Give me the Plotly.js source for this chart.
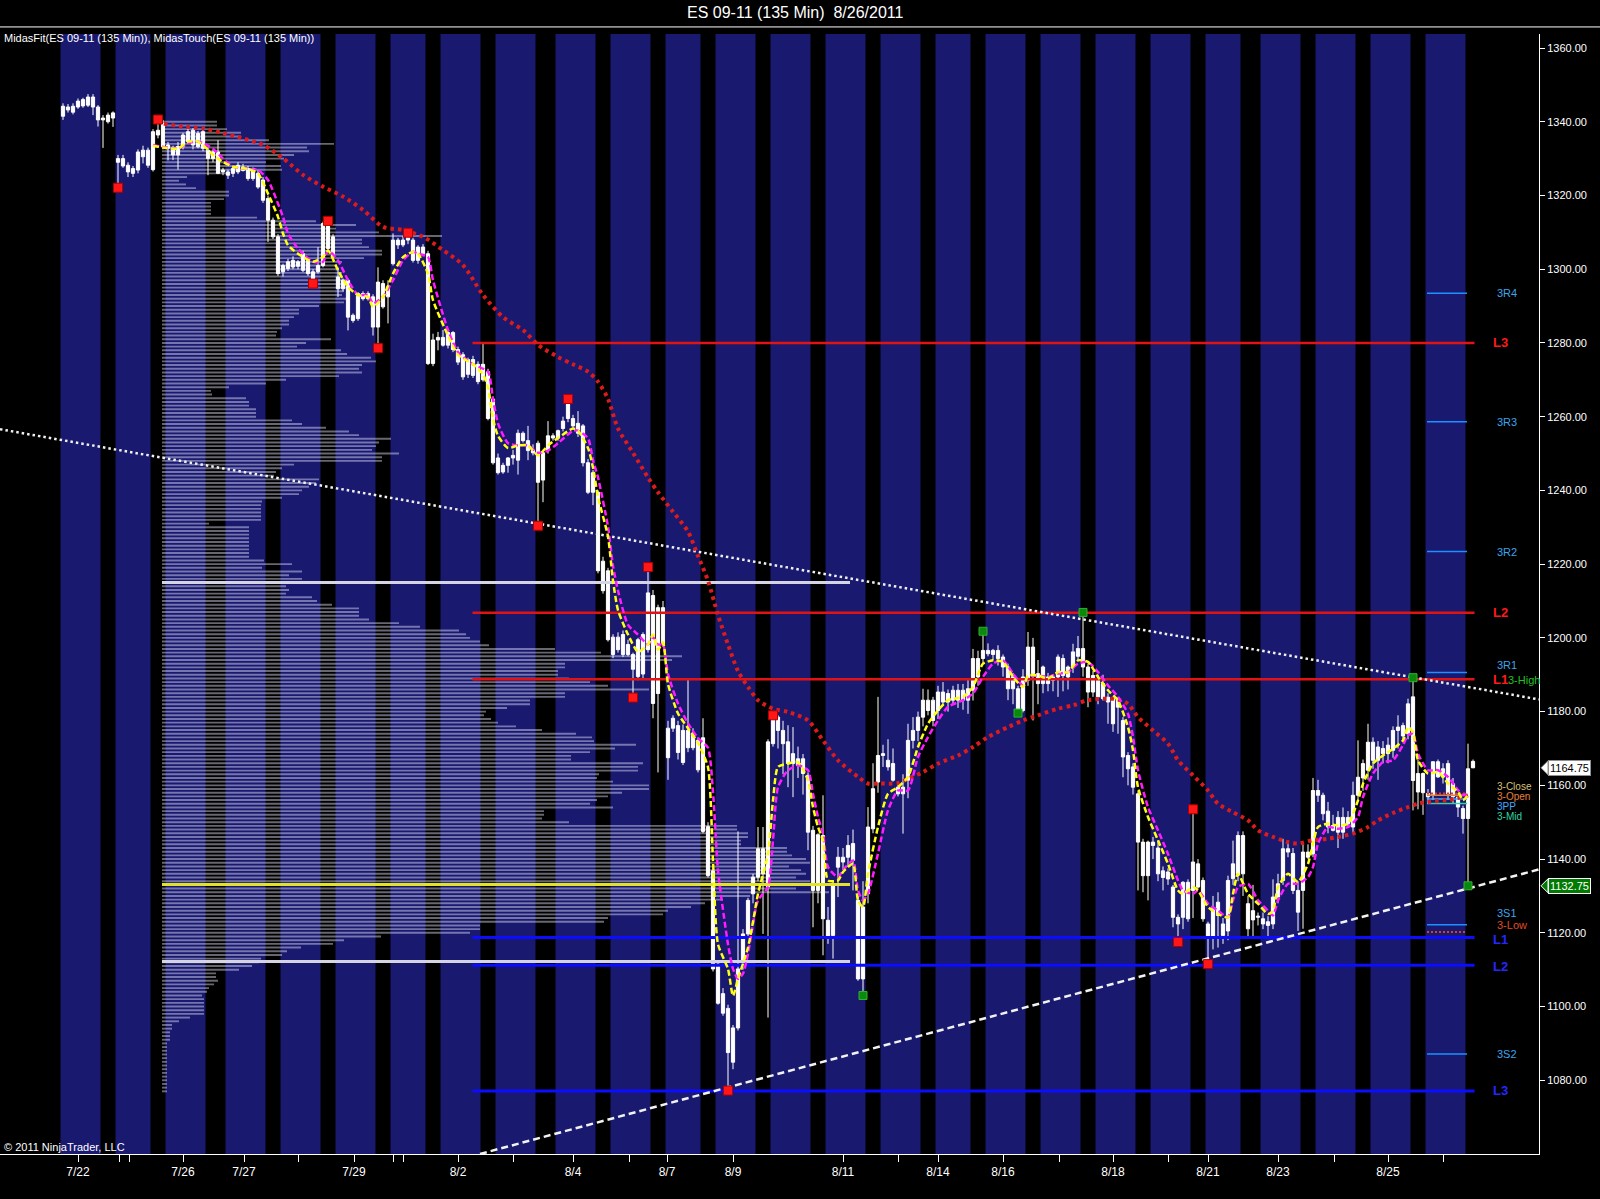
<!DOCTYPE html>
<html>
<head>
<meta charset="utf-8">
<title>ES 09-11 (135 Min) 8/26/2011</title>
<script src="https://cdn.plot.ly/plotly-3.0.1.min.js"></script>
<style>
  html, body { margin: 0; padding: 0; background: #000; }
  #chart { width: 1600px; height: 1199px; }
</style>
</head>
<body>
<div id="chart"></div>
<script>
/* ES 09-11, 135 minute bars, 7/22 .. 8/26/2011.
   x axis = bar number (0 = first bar on the chart), y axis = price.
   One row per trading session in the OHLC arrays. */

// ---- candles ---------------------------------------------------------------
const OPEN = [
  1341.5,1343.2,1344.2,1344,1344.3,1344.5,1346.7,1344,1340.5,1340,1341,
  1329,1330,1328.2,1326,1326.9,1330.5,1332.3,1327,1337.7,1339.5,
  1333.7,1332.8,1331,1333.2,1334.6,1337.7,1333.2,1337.3,1332.3,1330,1331.8,1326.9,
  1326.4,1326,1326.4,1327.7,1327.3,1324.6,1326,1324.2,1319.2,1313.3,1308.8,
  1299.3,1300.2,1302.4,1300.8,1299.7,1302.4,1299.3,1299.3,1301,1312,1308.8,
  1297.9,1294.7,1297,1287.5,1286.6,1293.4,1292,1292.5,1284.3,1296.1,1292.5,
  1301.5,1307.9,1306.6,1307.9,1307.9,1302.4,1306,1304.2,1274.4,1280.8,
  1281.5,1279.4,1282.8,1278.2,1276.8,1271.5,1275.5,1274.2,1270,1272.2,1264.8,
  1248.8,1245,1246.8,1248.8,1248.2,1255.5,1253.5,1250.8,1252.8,1242.8,1250.8,1254.8,
  1254.2,1256.8,1259.5,1259.5,1258.2,1257.5,1247.5,1244.8,1239.5,1220.8,1218.2,
  1200.2,1200.2,1200.9,1198.2,1195.5,1189.5,1190.2,1196.8,1211.5,1184.9,1208.2,
  1175.5,1175.5,1176.2,1166.2,1170.2,1174.2,1172.2,1172.9,1148.8,1136.8,
  1111.5,1103.5,1099.5,1084.9,1094.2,1112.5,1119.7,1130.6,1135.1,1142.8,1132.4,
  1171.3,1178.5,1174.9,1171.8,1165.9,1167.2,1167.2,1162.7,1147.8,1131.5,1146.4,
  1123.4,1119.3,1137.8,1140.5,1140.5,1144.2,1128.8,1107.5,1130.6,1148.2,1160.9,
  1168.1,1166.8,1165.9,1159.5,1157.7,1161.4,1172.2,1174.9,1178.5,1183.1,1183.1,
  1180.3,1185.3,1182.6,1185.8,1183.1,1185.8,1183.1,1185.8,1194.4,1194.4,
  1196.6,1195.5,1196.6,1194.8,1192.1,1186.2,1186.2,1180.3,1188.5,1197.5,1190.3,
  1187.6,1189.4,1188.5,1189.4,1194.4,1189.4,1192.1,1197.1,1197.1,1192.1,1189.8,
  1188.5,1187.6,1183.9,1183.5,1181.2,1177.6,1168.1,1165,1157.7,1144.6,1135.5,
  1144.6,1143,1136.8,1136.5,1132.4,1124.2,1124.2,1133.7,1131.5,1138.7,1134.2,
  1122.4,1126.9,1124.7,1122.4,1120.5,1134.7,1146.4,1136,1127.9,1123.5,1124.2,
  1123.8,1123,1122.4,1129.7,1134.2,1142.8,1141.5,1131.5,1131.5,1141.9,1141.4,
  1158.6,1157.3,1153,1149.1,1151.3,1147.3,1151.3,1148.7,1157.3,1162,1164.1,
  1171.7,1166.8,1170,1168.6,1169.5,1174.9,1173.4,1174,1184,1163.2,1158,
  1157.8,1157.3,1166.4,1162.3,1165.9,1160.5,1156.8,1153.7,1151,1166.5
];
const HIGH = [
  1345,1344.8,1345,1346.3,1346.5,1347.5,1347.5,1344.5,1341.8,1342.5,1342.8,
  1331,1331,1329,1328,1332.5,1333.5,1333,1338,1340.6,1340.5,
  1334.5,1333.5,1334.5,1337,1338.5,1338.3,1337.5,1338,1333,1332.3,1335,1327.5,
  1327,1328,1329,1328.6,1328,1327.6,1326.8,1325,1320,1314,1309.5,
  1301.5,1302.8,1303.5,1302.5,1305,1303,1300,1306,1312.9,1313.1,1309.5,
  1300.5,1297.5,1297.5,1288,1293.8,1294,1294,1293.2,1300.5,1297,1297,
  1309.7,1308.5,1309,1309.9,1308.5,1306.5,1306.8,1305,1282.5,1283,
  1283.5,1283.5,1283.2,1279,1277.5,1276,1276.5,1275,1280,1273,1265.5,
  1250,1247.5,1249,1251,1256.5,1256,1257.5,1252.5,1253.5,1251,1258.8,1255.5,
  1256.5,1260,1264.8,1260.5,1261.5,1258,1248.5,1245.5,1240,1222,1219,
  1201,1201.5,1202,1199.5,1196,1200,1201.5,1219.2,1213,1209,1210,
  1177.5,1179,1177.5,1176.5,1188.9,1175.5,1173,1178.2,1150,1137.5,
  1112.5,1105,1100.5,1095,1147.5,1121,1129.5,1136,1148.7,1148.7,1172.5,
  1179,1179,1177.5,1176.3,1175.8,1170.5,1168.5,1163.5,1149,1147,1157.3,
  1127,1134,1143.3,1143,1146.5,1148,1130,1134,1154.1,1166,1184,
  1171,1172.5,1170,1161,1163,1176.7,1178.5,1180,1186.2,1186,1184,
  1187,1188,1186,1187,1187.5,1187.5,1189,1197,1196.5,1201.8,
  1198.5,1197,1198,1195.5,1193,1190.5,1187,1191.5,1201.6,1200,1194,
  1192.5,1190.5,1190,1195.5,1195.5,1192.5,1198.4,1200.5,1206.9,1193,1191,
  1190,1190,1185,1184,1184,1178.5,1169,1166,1158.5,1145.5,1145,
  1146,1145,1138,1137.5,1133,1125,1134,1134.5,1153.5,1140,1135,
  1123,1130,1131,1124,1135.5,1145,1147.5,1147.5,1130,1133,1125.5,
  1125.5,1124.5,1134.5,1136,1145.5,1145,1143,1134,1144,1144,1162,
  1161.5,1158,1155.5,1152,1153,1154,1153,1161,1172.2,1167,1176.7,
  1173,1172,1172,1173,1176,1179,1177,1183.5,1189.2,1167,1163.5,
  1159,1166.5,1167,1166,1166.8,1162,1157.5,1154.5,1171.3,1167
];
const LOW = [
  1340.5,1342.5,1342,1343.5,1343.8,1344,1341.8,1338.7,1332.9,1339.5,1338.6,
  1322.1,1327.5,1325,1325,1326,1328.7,1327.5,1326.5,1335.5,1332.5,
  1329.5,1329.6,1327,1332.5,1334,1332.5,1332.8,1332,1325.5,1329,1325.8,1325.5,
  1324.5,1325,1325.8,1326.5,1324,1324,1321.8,1318,1307.4,1308.2,1298.2,
  1298,1299.5,1300,1300,1299.2,1298.2,1296.1,1298.8,1300.5,1305,1302.8,
  1292.5,1294,1283.4,1285.5,1286,1291.5,1291.5,1282,1278.6,1289.3,1285.3,
  1301,1305.5,1306,1306.8,1301.8,1301.5,1303.5,1274,1273.7,1278,
  1279,1278.5,1277.5,1274,1270,1270.5,1270.5,1268.8,1269.5,1259,1247,
  1244.3,1244.5,1244.8,1247,1244.3,1253,1248.2,1249.5,1230.4,1236.8,1250,1253.5,
  1253.5,1256,1258.5,1257,1254.5,1246.5,1239,1236,1217.5,1212,1199,
  1194.5,1196,1194.8,1195,1183.8,1188.5,1189,1196,1178.2,1163.5,1197.5,
  1161.5,1174.5,1167,1165.5,1169,1169.5,1163.5,1147,1135,1109.5,
  1100.5,1097.5,1077.2,1083,1093.5,1110,1119,1128,1134,1119.7,1097,
  1170.5,1170,1163,1159.5,1156.8,1162,1157.5,1142.4,1121.5,1128,1113.9,
  1117,1113,1129.7,1137,1138,1131.5,1107,1103,1128,1147,1158,
  1165,1164,1161,1157,1146.9,1156.5,1170,1172,1176,1179,1176,
  1178,1181.5,1180,1182,1181,1180.5,1179.4,1183,1187,1193,
  1195,1194,1192.5,1189.5,1183.1,1182,1179.6,1179.8,1187,1177.6,1182,
  1185,1185.5,1185.5,1184,1185.5,1186,1190.5,1194,1189.5,1181.2,1184,
  1182,1183,1176.7,1174.5,1174,1162.2,1160,1157.5,1131.5,1131,1128.8,
  1140,1134,1131.5,1133,1121.5,1117.5,1121,1123,1124,1132,1123,
  1111.5,1115.5,1116,1117,1118,1133,1134,1130,1118.5,1118.5,1122,
  1121,1118.8,1121,1128,1133,1140.5,1130.5,1120.5,1121.1,1140,1140.5,
  1155.5,1150.5,1147,1147.5,1143,1145.5,1149,1147,1155.5,1158.5,1161.5,
  1164.5,1161.5,1166,1166,1167.5,1170,1172,1172.5,1153.2,1153.5,1152,
  1155,1156,1162,1160.5,1156,1155,1151.4,1146.9,1132.75,1164.75
];
const CLOSE = [
  1344.2,1344,1342.6,1345.6,1346,1346.7,1344,1340.5,1341,1341.8,1342.4,
  1330,1328,1326.4,1327.3,1331.8,1332.3,1328.2,1337.3,1336.4,1333.2,
  1332.8,1331,1333.3,1336.4,1337.3,1333.7,1336.8,1332.8,1330,1331.8,1326,1326.4,
  1325.5,1327.3,1328.2,1326.8,1324.6,1327.3,1322.3,1318.7,1313.3,1308.8,1298.8,
  1301,1302,1300.6,1302,1304.2,1298.8,1297,1301,1312.4,1305.6,1303.3,
  1294.7,1297,1287,1286.1,1293.4,1292,1293.4,1284.3,1296.5,1289.8,1295.2,
  1307.9,1306.6,1307.9,1308.8,1302.4,1306,1304.2,1274.4,1280.8,1281.5,
  1279.4,1282.8,1278.2,1274.8,1270.8,1275.5,1271.2,1269.5,1274.2,1259.5,1247.5,
  1244.8,1246.8,1248.8,1249.5,1255.5,1253.5,1250.8,1250.2,1242.2,1250.2,1254.8,1254.2,
  1256.2,1258.8,1263.5,1257.5,1255.5,1247.5,1239.5,1239.5,1218.2,1212.8,1199.5,
  1195.5,1196.8,1195.5,1195.5,1191.5,1199.5,1200.9,1212.2,1182.2,1208.2,1198.2,
  1167.5,1178.2,1168.9,1174.9,1174.9,1170.2,1164.2,1147.5,1135.5,1110.2,
  1100.9,1098.2,1087.5,1094.2,1110.2,1119.7,1128.8,1135.1,1142.8,1136,1171.8,
  1178.5,1174.9,1171.3,1165.9,1168.6,1165.4,1163.2,1147.3,1131.5,1146.6,1123.8,
  1118.8,1132.9,1140.5,1139.2,1143.7,1139.6,1107.5,1127,1148.7,1159.1,1168.1,
  1168.6,1165,1161.4,1157.7,1159.5,1172.2,1174.9,1178.5,1183.1,1180.3,1177.6,
  1185.3,1182.6,1184.9,1183.1,1185.8,1183.1,1186.2,1194.4,1189.4,1196.6,
  1195.7,1196.6,1194.4,1192.1,1186.2,1189.4,1180.3,1189.4,1197.5,1190.3,1187.6,
  1192.1,1187.6,1189.4,1194.8,1189.8,1192.1,1196.2,1195,1192.1,1185.3,1185.3,
  1184,1183.5,1182.6,1176.7,1183.5,1167.7,1164.5,1159.5,1144.6,1135.5,1144.6,
  1143.7,1136,1135,1134.6,1124.2,1122.4,1133.7,1123.8,1139.2,1132.4,1123.8,
  1118.8,1118.8,1128.3,1119.3,1134.2,1138.7,1136,1146.4,1121.1,1126,1124.5,
  1122.4,1122,1129.7,1133.3,1142.8,1141.9,1131.5,1125.6,1141.9,1140.5,1158.6,
  1157.3,1152.3,1148.7,1147.8,1147.3,1151.3,1149.6,1157.3,1162.2,1165.9,1171.7,
  1166.8,1170.4,1168.6,1170.9,1174.9,1175.8,1176.2,1182.1,1161.3,1158.2,1163.2,
  1156.9,1166.4,1162.3,1164.5,1157.7,1156.9,1154.1,1151,1164.5,1164.75
];

// ---- sessions (blue bands): first bar and number of bars ------------------
const SESSION_START = [0,11,21,33,44,55,66,76,87,99,110,121,131,142,153,164,175,185,196,207,218,229,240,251,262,273];
const SESSION_LEN   = [8,7,8,8,8,8,7,8,8,8,8,7,8,8,8,8,7,8,8,8,8,7,8,8,8,8];

// ---- x axis dates -----------------------------------------------------------
const DATE_TICKS  = [3,11.2,13.2,24,36.2,47,58.2,66,68,79,90,102,113.2,120.8,134,156,167,175,188,199.2,210,221,229,243,254.2,265,276];
const DATE_LABELS = ['7/22','','','7/26','7/27','','7/29','','','8/2','','8/4','','8/7','8/9','8/11','','8/14','8/16','','8/18','','8/21','8/23','','8/25',''];
const PRICE_TICKS = [1080,1100,1120,1140,1160,1180,1200,1220,1240,1260,1280,1300,1320,1340,1360];

// ---- MidasFit (yellow / magenta) and MidasTouch (red dotted) ---------------
const FIT_FAST_X = [18,20,23,25,27,28,30,32,34,37,39,41,43,44,45,47,50,52,53,55,57,59,61,62,64,66,68,70,71,73,74,77,79,82,84,85,86,87,89,91,93,95,97,99,102,103,105,106,107,109,110,111,113,115,117,118,119,120,121,123,125,127,129,130,131,133,134,135,137,138,139,141,142,143,145,147,149,150,151,152,153,155,156,158,159,160,161,163,165,167,169,171,173,175,177,180,182,184,186,188,190,192,193,195,197,199,201,203,205,207,209,211,213,214,215,217,219,221,223,224,226,227,229,231,233,234,235,237,239,241,242,243,245,247,249,250,251,253,255,257,259,260,262,264,266,268,269,270,271,273,275,277,279,280,281];
const FIT_FAST_Y = [1333.5,1333,1332.7,1334.6,1334.6,1333.7,1331,1329.1,1327.8,1327.2,1326,1320.5,1314.2,1309.7,1306.5,1304.2,1302,1303.3,1305.1,1299.7,1295.2,1293,1292.5,1289.8,1292.5,1298.8,1303.3,1304.7,1304.2,1298.8,1291.6,1282,1276.8,1274.2,1271.5,1268,1259.5,1254.8,1251.5,1252.2,1252.2,1249.5,1252.2,1254.2,1256.8,1256.2,1251.5,1246.2,1238.2,1227.5,1215.5,1207.5,1200.9,1196.2,1198.2,1200.9,1196.8,1198.8,1187.5,1179.5,1175.5,1171.5,1164.9,1139.5,1116.9,1110.2,1102.9,1107.5,1116,1123,1130.6,1141.4,1155.9,1165,1165.9,1166.3,1161.4,1154.1,1148.7,1145.1,1134.2,1134.2,1136.5,1138.7,1128.8,1127,1136,1148.7,1157.7,1159.5,1162.3,1170.4,1176.7,1180.3,1183.1,1184,1186.7,1193,1193.9,1193.5,1189.4,1186.7,1189.8,1189.8,1189,1190.7,1190.7,1193.9,1193.5,1189.4,1185.8,1183,1175.8,1169.5,1159.5,1151.4,1145.1,1138.7,1131.5,1130.6,1132.4,1131.5,1127,1125.1,1124.2,1130.6,1136,1130.6,1127.9,1125.1,1126,1132.4,1136,1133.8,1138.7,1144.2,1148.7,1149.6,1149.1,1149.6,1155.9,1160.4,1165.9,1168.1,1169.9,1172.2,1175.8,1174.4,1166.8,1163.2,1163.6,1160.5,1158.2,1156,1157.3];
const FIT_SLOW_X = [18,23,25,27,28,30,32,34,37,39,41,43,44,45,47,50,52,53,55,57,59,61,62,64,66,68,70,71,73,74,77,79,82,85,86,87,89,91,93,95,97,99,102,103,105,106,107,109,110,111,113,115,117,118,119,120,121,123,125,127,129,130,131,133,134,135,136,137,139,141,142,143,145,147,149,150,151,152,153,155,156,158,159,160,161,163,165,167,169,171,173,175,177,180,182,184,186,188,190,192,193,195,197,199,201,203,205,207,209,211,213,214,215,217,219,221,223,224,226,227,229,231,233,234,235,237,239,241,242,243,245,247,249,250,251,253,255,257,259,260,262,264,266,268,269,270,271,273,275,277,279,280,281];
const FIT_SLOW_Y = [1333.7,1332.7,1334.2,1334.6,1334.2,1332.7,1330,1327.8,1327.2,1326.9,1324.2,1317.8,1314.2,1309.7,1305.6,1302,1302,1305.1,1302.4,1297,1293,1293,1290.7,1292.5,1297,1302.4,1304.7,1304.2,1303.3,1297,1283.5,1277.5,1274.2,1272.2,1264.8,1258.2,1252.8,1252.2,1252.2,1250.2,1250.8,1252.8,1256.2,1256.2,1254.2,1248.2,1243.5,1230.2,1219.5,1212.8,1203.5,1200.9,1198.2,1200.2,1198.2,1198.2,1190.2,1182.2,1176.8,1172.8,1170.2,1158.2,1136.9,1116.9,1110.2,1107.5,1108.9,1114.3,1128.8,1132.4,1145.1,1159.5,1164.1,1165.4,1164.1,1157.7,1151.4,1146.9,1137.8,1135.1,1137,1139.6,1131.5,1128.8,1130.6,1141.5,1153.2,1158.6,1158.6,1167.7,1173.1,1177.6,1181.3,1183.1,1184.9,1189.4,1193,1193.9,1190.3,1187.1,1189.4,1189.8,1189.4,1190.3,1190.7,1193,1193.5,1190.7,1187.1,1184,1179.4,1173.1,1164.1,1154.1,1147.8,1141.4,1134.2,1131.5,1130.6,1131.5,1127.9,1126,1124.2,1128.8,1132.4,1133.3,1128.8,1126,1124.7,1128.8,1133.3,1133.3,1135.1,1137.8,1144.2,1148.7,1148.2,1148.7,1151.4,1156.8,1163.2,1166.3,1166.8,1170.9,1173.6,1174,1168.6,1164.1,1164.1,1162.3,1158.7,1157.3,1157.8];
const TOUCH_X = [19,20,24,28,32,36,40,44,48,52,56,60,64,68,72,76,80,84,88,92,95,99,102,105,107,109,111,114,117,119,122,125,127,129,131,133,135,137,139,142,145,149,152,155,159,161,163,167,169,172,175,179,182,185,189,192,195,199,202,205,209,211,213,215,218,221,223,226,229,231,234,237,239,242,245,247,250,253,255,258,261,263,266,269,271,273,277,280,281];
const TOUCH_Y = [1340.6,1339.6,1338.7,1338.2,1336.9,1335.5,1333.7,1330.1,1325.6,1322.4,1319.7,1316.1,1311.5,1310.6,1308.8,1305.2,1301.1,1293,1287,1283.5,1279.5,1276.2,1274.2,1272.2,1269.5,1264.8,1256.8,1250.2,1243.5,1239.5,1234.2,1228.8,1222.2,1215.5,1206.2,1198.2,1191,1186.7,1183.1,1180.8,1179.9,1177.6,1172.2,1166.8,1162.3,1160.5,1160.5,1160.6,1161.8,1163.6,1165.9,1168.1,1170.4,1173.1,1175.8,1177.6,1179,1180.8,1181.7,1183.1,1183.5,1183.3,1182.1,1178.5,1174.9,1171.3,1166.8,1162.7,1158.6,1155,1152.7,1150.5,1147.8,1146,1144.6,1144.2,1145.1,1145.5,1146,1146.9,1148.7,1150.5,1152.5,1154.1,1155,1155.5,1156,1156.9,1157.3];

// ---- swing dots -------------------------------------------------------------
const RED_DOT_X = [11,19,50,53,63,69,95,101,114,117,133,142,223,226,229];
const RED_DOT_Y = [1322.1,1340.6,1296.1,1313.1,1278.6,1309.9,1230.4,1264.8,1183.8,1219.2,1077.2,1179,1117.5,1153.5,1111.5];
const GREEN_DOT_X = [160,184,191,204,270,281];
const GREEN_DOT_Y = [1103,1201.8,1179.6,1206.9,1189.2,1132.75];

// ---- volume profile 7/25 .. 8/11: one value per point, from 1340 down -------
const PROFILE_TOP = 1340;
const PROFILE_VOL = [
  55,55,65,79,79,107,172,145,147,132,
  122,104,119,120,67,25,17,24,34,67,
  67,62,49,49,49,49,95,154,194,174,
  217,280,200,200,207,220,220,202,180,174,
  177,180,180,184,184,184,182,180,187,182,
  157,137,137,132,127,127,120,115,114,169,
  144,135,179,185,209,214,200,197,200,177,
  124,104,67,49,50,84,87,87,94,94,
  94,130,140,164,187,197,229,217,214,210,
  237,220,220,132,120,114,112,157,154,147,
  140,137,120,100,99,99,99,99,99,47,
  87,87,87,87,87,87,87,87,87,102,
  130,100,140,127,140,137,124,127,124,150,
  155,170,197,197,197,207,237,258,297,304,
  308,318,327,393,439,520,510,403,403,396,
  396,407,428,446,487,403,403,368,368,345,
  324,322,329,336,354,380,414,430,432,474,
  453,428,409,409,481,476,476,437,435,451,
  487,487,460,446,435,428,451,382,382,380,
  407,575,575,586,586,579,579,625,625,630,
  644,648,627,639,644,634,648,672,634,667,
  588,561,543,529,506,501,446,442,318,318,
  308,219,182,171,139,125,120,99,97,90,
  77,54,54,56,52,47,45,40,42,42,
  42,42,42,28,17,10,10,8,8,8,
  5,5,5,5,5,5,5,5,5,5,
  5,5,5,5
];
const PROFILE_POC = 1133.1;
const PROFILE_VA  = [1215, 1112.2];

// ---- levels ----------------------------------------------------------------
const RES_LABELS = ['L3','L2','L1'];
const RES_LEVELS = [1280, 1206.8, 1188.8];
const SUP_LABELS = ['L1','L2','L3'];
const SUP_LEVELS = [1118.7, 1111.2, 1077.1];
const PIVOT_LABELS = ['3R4','3R3','3R2','3R1','3S1','3S2'];
const PIVOT_LEVELS = [1293.5, 1258.6, 1223.4, 1190.6, 1122.2, 1087.1];
const PRIOR_LABELS = ['3-High','3-Close','3-Open','3PP','3-Mid','3-Low'];
const PRIOR_LEVELS = [1188.6, 1157.8, 1157.3, 1156.3, 1155.1, 1120.2];
const PRIOR_COLORS = ['#22c022','#d8c27a','#e8803a','#45a8ff','#2ed6a6','#e04a22'];

// ---- trend lines (two anchors each) ----------------------------------------
const TL_DOWN_X = [-12.6, 295.2];
const TL_DOWN_Y = [1256.6, 1183.3];
const TL_UP_X = [83.4, 295.2];
const TL_UP_Y = [1060, 1137.2];

const LAST_PRICE = 1164.75;
const LOW_PRICE = 1132.75;

// ---- frame -----------------------------------------------------------------
const X_RANGE = [-12.6, 295.2];
const Y_RANGE = [1060, 1363.8];
const PLOT_W = 1539;                 // px width of the plot area
const PX_PER_PT = 1120 / (Y_RANGE[1] - Y_RANGE[0]);
const PROFILE_BASE = 19.8;           // bar where the profile starts
const VOL_TO_BARS = 0.2;
const PROFILE_END = 157.4;           // right end of POC / VA lines
const LEVEL_X = [81.9, 282.3];
const PIVOT_X = [272.8, 280.8];
const FONT = 'Arial, "Liberation Sans", Helvetica, sans-serif';

// label placement on the right edge: texts that sit on the same prices in the
// original are nudged apart a little so they stay readable
const LABEL_NUDGE = { '3R1': 2.0, '3S1': 3.2, '3-Low': 2.0, '3-Close': 1.8, '3-Open': -0.4, '3PP': -2.1, '3-Mid': -3.6 };
const SUP_NUDGE = [-0.6, -0.3, 0];
const LABEL_X = { L: 285.6, pivot: 286.4, '3-High': 288.6 };

const idx = OPEN.map((_, i) => i);

function levelLines(levels, x0, x1, color, width, dash) {
  const x = [], y = [];
  levels.forEach(lv => { x.push(x0, x1, null); y.push(lv, lv, null); });
  return {
    type: 'scatter', mode: 'lines', x, y,
    line: { color, width, dash: dash || 'solid' },
    hoverinfo: 'skip', connectgaps: false,
  };
}

function levelLabel(text, y, color, x, size, bold, nudge) {
  return {
    xref: 'x', yref: 'y', x, y: y + (nudge !== undefined ? nudge : (LABEL_NUDGE[text] || 0)),
    text: bold ? `<b>${text}</b>` : text, showarrow: false,
    xanchor: 'left', yanchor: 'middle',
    font: { family: FONT, size: size || 12, color },
  };
}

const traces = [];

// volume profile
traces.push({
  type: 'bar', orientation: 'h',
  y: PROFILE_VOL.map((_, i) => PROFILE_TOP - i),
  x: PROFILE_VOL.map(v => v * VOL_TO_BARS),
  base: PROFILE_BASE,
  width: 0.52,
  marker: { color: 'rgba(235,235,255,0.44)', line: { width: 0 } },
  hoverinfo: 'skip',
});
traces.push(levelLines(PROFILE_VA, PROFILE_BASE, PROFILE_END, '#d4d4e2', 3));
traces.push(levelLines([PROFILE_POC], PROFILE_BASE, PROFILE_END, '#e2e22a', 3));

// resistance / support levels
traces.push(levelLines(RES_LEVELS, LEVEL_X[0], LEVEL_X[1], '#e01414', 2.5));
traces.push(levelLines(SUP_LEVELS, LEVEL_X[0], LEVEL_X[1], '#0c0cff', 3));

// floor pivots and prior-session levels (short stubs on the last session)
traces.push(levelLines(PIVOT_LEVELS, PIVOT_X[0], PIVOT_X[1], '#1e90ff', 1.5));
PRIOR_LEVELS.forEach((lv, i) => {
  if (i === 0) return;
  const dotted = PRIOR_LABELS[i] === '3-Low' || PRIOR_LABELS[i] === '3-Close';
  traces.push(levelLines([lv], PIVOT_X[0], PIVOT_X[1], dotted ? '#e03a2a' : PRIOR_COLORS[i], dotted ? 2 : 1.5, dotted ? '2px,2px' : 'solid'));
});

// trend lines
traces.push({
  type: 'scatter', mode: 'lines', x: TL_DOWN_X, y: TL_DOWN_Y,
  line: { color: '#f2f2f2', width: 2.5, dash: '2.5px,3px' }, hoverinfo: 'skip',
});
traces.push({
  type: 'scatter', mode: 'lines', x: TL_UP_X, y: TL_UP_Y,
  line: { color: '#f2f2f2', width: 2.5, dash: '7px,4px' }, hoverinfo: 'skip',
});

// candles
traces.push({
  type: 'candlestick', x: idx, open: OPEN, high: HIGH, low: LOW, close: CLOSE,
  increasing: { line: { color: '#ffffff', width: 1 }, fillcolor: '#ffffff' },
  decreasing: { line: { color: '#ffffff', width: 1 }, fillcolor: '#ffffff' },
  whiskerwidth: 0, hoverinfo: 'skip',
});

// MidasTouch and MidasFit curves drawn over the candles
traces.push({
  type: 'scatter', mode: 'lines', x: TOUCH_X, y: TOUCH_Y,
  line: { color: '#dc1c1c', width: 4, dash: '3.5px,4px', shape: 'spline', smoothing: 0.8 },
  hoverinfo: 'skip',
});
traces.push({
  type: 'scatter', mode: 'lines', x: FIT_SLOW_X, y: FIT_SLOW_Y,
  line: { color: '#ff1cff', width: 2.5, dash: '6px,3px', shape: 'spline', smoothing: 0.6 },
  hoverinfo: 'skip',
});
traces.push({
  type: 'scatter', mode: 'lines', x: FIT_FAST_X, y: FIT_FAST_Y,
  line: { color: '#ffff14', width: 2.5, dash: '6px,3px', shape: 'spline', smoothing: 0.6 },
  hoverinfo: 'skip',
});

// swing dots
traces.push({
  type: 'scatter', mode: 'markers', x: RED_DOT_X, y: RED_DOT_Y,
  marker: { symbol: 'square', size: 9, color: '#ff1616', line: { color: '#b00000', width: 1 } },
  hoverinfo: 'skip',
});
traces.push({
  type: 'scatter', mode: 'markers', x: GREEN_DOT_X, y: GREEN_DOT_Y,
  marker: { symbol: 'square', size: 8, color: '#0a8a0a', line: { color: '#30b030', width: 1 } },
  hoverinfo: 'skip',
});

// ---- shapes ----------------------------------------------------------------
const shapes = SESSION_START.map((s, i) => ({
  type: 'rect', xref: 'x', yref: 'paper', layer: 'below',
  x0: s - 0.5, x1: s + SESSION_LEN[i] - 0.5, y0: 0, y1: 1,
  fillcolor: '#191970', line: { width: 0 },
}));
// rule under the window title
shapes.push({
  type: 'line', xref: 'paper', yref: 'paper', x0: 0, x1: 1600 / PLOT_W, y0: 1.0063, y1: 1.0063,
  line: { color: '#ffffff', width: 1 },
});

function priceFlag(price, bg, fg, border) {
  const tip = 1541 / PLOT_W, body = 1548 / PLOT_W, half = 7 / PX_PER_PT;
  shapes.push({
    type: 'path', xref: 'paper', yref: 'y', layer: 'above',
    path: `M ${tip},${price} L ${body},${price + half} L ${body},${price - half} Z`,
    fillcolor: bg, line: { color: border, width: 1 },
  });
  return {
    xref: 'paper', yref: 'y', x: body, y: price, xanchor: 'left', yanchor: 'middle',
    text: price.toFixed(2), showarrow: false, bgcolor: bg, bordercolor: border,
    borderwidth: 1, borderpad: 1, font: { family: FONT, size: 11, color: fg },
  };
}

// ---- annotations ----------------------------------------------------------
const annotations = [
  { xref: 'paper', yref: 'paper', x: 795 / PLOT_W, y: 1.0196, xanchor: 'center', yanchor: 'middle',
    text: 'ES 09-11 (135 Min)  8/26/2011', showarrow: false, font: { family: FONT, size: 16, color: '#ffffff' } },
  { xref: 'paper', yref: 'paper', x: 0.001, y: 0.9963, xanchor: 'left', yanchor: 'middle',
    text: 'MidasFit(ES 09-11 (135 Min)), MidasTouch(ES 09-11 (135 Min))', showarrow: false,
    font: { family: FONT, size: 11, color: '#ffffff' } },
  { xref: 'paper', yref: 'paper', x: 0.001, y: 0.006, xanchor: 'left', yanchor: 'middle',
    text: '© 2011 NinjaTrader, LLC', showarrow: false, font: { family: FONT, size: 11, color: '#ffffff' } },
];
RES_LEVELS.forEach((lv, i) => annotations.push(levelLabel(RES_LABELS[i], lv, '#ff1a1a', LABEL_X.L, 13, true, 0)));
SUP_LEVELS.forEach((lv, i) => annotations.push(levelLabel(SUP_LABELS[i], lv, '#2626ff', LABEL_X.L, 13, true, SUP_NUDGE[i])));
PIVOT_LEVELS.forEach((lv, i) => annotations.push(levelLabel(PIVOT_LABELS[i], lv, '#3ea4ea', LABEL_X.pivot, 11)));
PRIOR_LEVELS.forEach((lv, i) => annotations.push(
  levelLabel(PRIOR_LABELS[i], lv, PRIOR_COLORS[i], LABEL_X[PRIOR_LABELS[i]] || LABEL_X.pivot, i >= 1 && i <= 4 ? 10 : 11)));
annotations.push(priceFlag(LAST_PRICE, '#ffffff', '#000000', '#909090'));
annotations.push(priceFlag(LOW_PRICE, '#007a00', '#ffffff', '#ffffff'));

const layout = {
  width: 1600, height: 1199,
  margin: { l: 0, r: 1600 - PLOT_W, t: 34, b: 45, pad: 0 },
  paper_bgcolor: '#000000', plot_bgcolor: '#000000',
  showlegend: false, hovermode: false,
  font: { family: FONT, color: '#ffffff', size: 11 },
  boxgap: 0.2, boxgroupgap: 0.2,
  xaxis: {
    range: X_RANGE, showgrid: false, zeroline: false,
    showline: true, linecolor: '#ffffff', linewidth: 1,
    ticks: 'outside', ticklen: 7, tickcolor: '#ffffff', tickwidth: 1,
    tickmode: 'array', tickvals: DATE_TICKS, ticktext: DATE_LABELS,
    tickfont: { family: FONT, size: 12, color: '#ffffff' },
    rangeslider: { visible: false }, fixedrange: true,
  },
  yaxis: {
    range: Y_RANGE, side: 'right', showgrid: false, zeroline: false,
    showline: true, linecolor: '#ffffff', linewidth: 1,
    ticks: 'outside', ticklen: 5, tickcolor: '#ffffff',
    tickmode: 'array', tickvals: PRICE_TICKS, ticktext: PRICE_TICKS.map(v => v.toFixed(2)),
    tickfont: { family: FONT, size: 11, color: '#ffffff' }, fixedrange: true,
  },
  shapes, annotations,
};

Plotly.newPlot('chart', traces, layout, { staticPlot: true, displayModeBar: false });
</script>
</body>
</html>
